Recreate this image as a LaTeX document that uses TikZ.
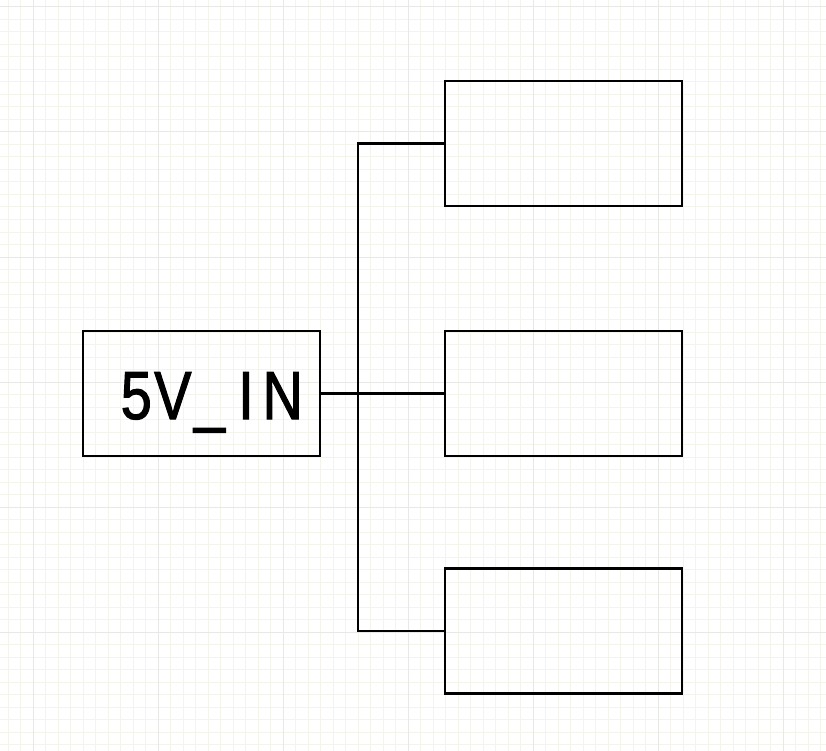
\documentclass[tikz,border=0pt]{standalone}
\usepackage{fontspec}
\newfontfamily\labelfont[FakeStretch=0.82,FakeBold=1.6]{Liberation Sans}
\definecolor{gridminor}{HTML}{F4F4EC}
\definecolor{gridmajor}{HTML}{E8E8E6}
\newcommand\cellchar[1]{\makebox[36.6pt][c]{#1}}
\begin{document}
\begin{tikzpicture}[x=1pt,y=-1pt,
  blockbox/.style={draw=black,line width=2.2pt,rectangle,minimum width=237pt,minimum height=125pt,inner sep=0pt,outer sep=0pt},
  wire/.style={draw=black,line width=2.2pt}]
\useasboundingbox (0,0) rectangle (826,751);
\fill[white] (0,0) rectangle (826,751);
% minor grid
\foreach \i in {0,...,66} {
  \draw[gridminor,line width=1pt] ({8+12.5*\i},0) -- ({8+12.5*\i},751);
}
\foreach \i in {0,...,60} {
  \draw[gridminor,line width=1pt] (0,{7+12.5*\i}) -- (826,{7+12.5*\i});
}
% major grid
\foreach \i in {0,...,6} {
  \draw[gridmajor,line width=1pt] ({33+125*\i},0) -- ({33+125*\i},751);
  \draw[gridmajor,line width=1pt] (0,{7+125*\i}) -- (826,{7+125*\i});
}
% blocks
\node[blockbox] (in) at (201.5,393.5) {};
\node[blockbox] (o1) at (563.5,143.5) {};
\node[blockbox] (o2) at (563.5,393.5) {};
\node[blockbox] (o3) at (563.5,631) {};
\node[anchor=base,inner sep=0pt,font=\labelfont\fontsize{68}{80}\selectfont] (lbl) at (209.5,419) {\cellchar{5}\cellchar{V}\cellchar{\_}\cellchar{I}\cellchar{N}};
% wires
\coordinate (bt) at (358,143.5);
\coordinate (bb) at (358,631);
\draw[wire] (in.east) -- (o2.west);
\draw[wire] (o1.west) -- (bt) -- (bb) -- (o3.west);
\end{tikzpicture}
\end{document}
